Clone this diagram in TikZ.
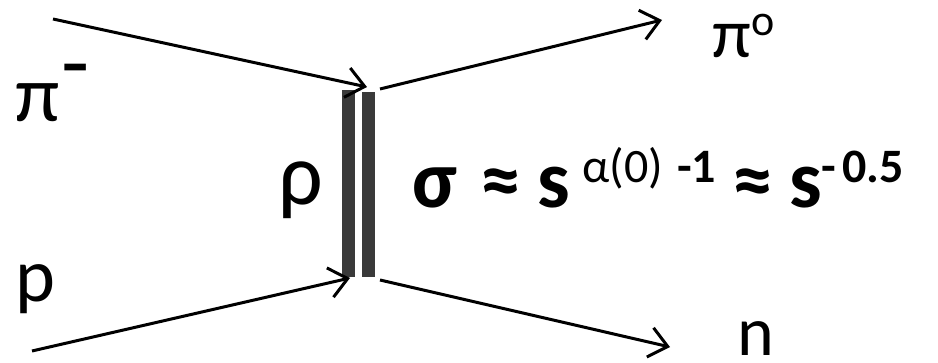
\documentclass[tikz,border=0pt]{standalone}
\usepackage{fontspec}
\setmainfont{Carlito}
\usetikzlibrary{arrows.meta,positioning}
\definecolor{bargray}{HTML}{3A3A3A}
\newcommand{\supfont}{\fontsize{24}{28}\selectfont}

\begin{document}
\begin{tikzpicture}[
    x=0.5pt, y=-0.5pt,
    particle/.style={anchor=base west, inner sep=0pt, font=\fontsize{40}{44}\selectfont},
    formula/.style={anchor=base west, inner sep=0pt, font=\fontsize{41}{46}\selectfont\bfseries},
    propagator/.style={rectangle, fill=bargray, inner sep=0pt, anchor=north west,
        minimum width=6.5pt, minimum height=93.5pt},
    leg/.style={line width=1.5pt},
    arrow/.style={leg, -{Straight Barb[length=9pt, width=15pt, line width=1.5pt]}}
]
    \useasboundingbox (0,0) rectangle (938,363);

    \node[propagator] (barl) at (342,90) {};
    \node[propagator, minimum height=92.5pt] (barr) at (362,92) {};

    \coordinate (inpi) at (53,19);
    \coordinate (inp) at (32,351);
    \coordinate (vtop) at (367,87);
    \coordinate (vbot) at (350,278);
    \coordinate (outtop) at (380,89);
    \coordinate (outbot) at (380,280);
    \coordinate (endpi) at (662,20);
    \coordinate (endn) at (670,347);

    \node[particle] (piminus) at (15,122) {π\hspace{1pt}\raisebox{14pt}{\fontsize{46}{50}\selectfont -}};
    \node[particle, font=\fontsize{38}{42}\selectfont] (proton) at (15,302) {p};
    \node[particle, font=\fontsize{44}{48}\selectfont] (rho) at (278,205) {ρ};
    \node[particle, font=\fontsize{35}{40}\selectfont] (pizero) at (712,58)
        {π\raisebox{11pt}{\fontsize{22}{26}\selectfont o}};
    \node[particle, font=\fontsize{35}{40}\selectfont] (neutron) at (737,356) {n};
    \node[formula] (sigma) at (412,208)
        {σ\hspace{12pt}≈\hspace{8pt}s\hspace{6pt}\raisebox{12.5pt}{\supfont\mdseries α(0)\hspace{7pt}\bfseries -1}\hspace{8pt}≈\hspace{8pt}s\raisebox{12.5pt}{\supfont\bfseries -\hspace{3pt}0.5}};

    \draw[arrow] (inpi) -- (vtop);
    \draw[arrow] (inp) -- (vbot);
    \draw[arrow] (outtop) -- (endpi);
    \draw[arrow] (outbot) -- (endn);
\end{tikzpicture}
\end{document}
